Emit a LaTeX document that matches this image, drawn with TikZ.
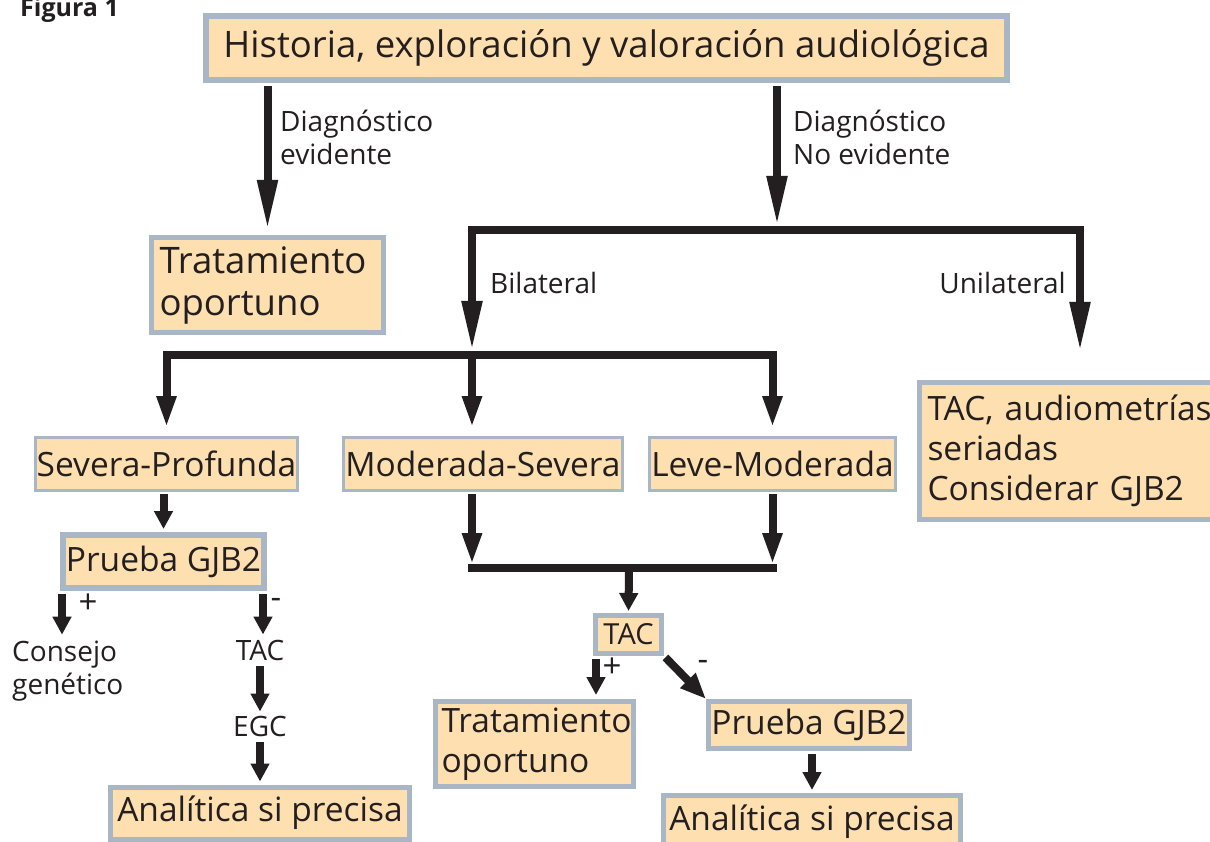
\documentclass[tikz,border=0pt]{standalone}
\usepackage{fontspec}
\setmainfont{Open Sans}
\usetikzlibrary{arrows.meta,positioning}

\definecolor{boxfill}{HTML}{FEDFB0}
\definecolor{boxline}{HTML}{A9B6C6}
\definecolor{ink}{HTML}{231F20}

\newcommand\toptxt{\fontsize{36.5}{42}\selectfont}
\newcommand\bigtxt{\fontsize{33.5}{40}\selectfont}
\newcommand\labtxt{\fontsize{28}{33}\selectfont}
\newcommand\smtxt{\fontsize{29}{33}\selectfont}

\tikzset{
    box/.style={draw=boxline, fill=boxfill, line width=5pt, inner sep=0pt, text=ink, font=\bigtxt},
    thinbox/.style={box, line width=3pt},
    multibox/.style={box, inner xsep=8pt, align=left},
    lbl/.style={inner sep=0pt, text=ink, font=\labtxt, align=left},
    sign/.style={inner sep=0pt, text=ink, font=\fontsize{33}{36}\selectfont},
    link/.style={draw=ink, line width=8pt},
    arrlong/.style={link, -{Triangle[length=50pt,width=19pt]}},
    arrmid/.style={link, -{Triangle[length=32pt,width=18pt]}},
    arrshort/.style={link, -{Triangle[length=18pt,width=18pt]}},
    arrdiag/.style={link, -{Triangle[length=26pt,width=20pt]}}
}

\begin{document}
\begin{tikzpicture}[x=1pt,y=-1pt]
    \useasboundingbox (0,0) rectangle (1210,842);
    \clip (0,0) rectangle (1210,842);

    \node[anchor=base west, inner sep=0pt, text=ink, font=\fontsize{25}{28}\selectfont\bfseries] (fig) at (20,17) {Figura 1};

    % boxes
    \node[box, font=\toptxt, line width=6pt, minimum width=801pt, minimum height=64pt] (top) at (606.5,48) {Historia, exploración y valoración audiológica};
    \node[multibox, font=\toptxt, text width=216pt, minimum height=95pt] (trat1) at (267.5,285) {Tratamiento\\oportuno};
    \node[multibox, text width=289pt, minimum height=137pt] (unitac) at (1072,451) {TAC, audiometrías\\seriadas\\Considerar GJB2};
    \node[thinbox, minimum width=262pt, minimum height=53pt] (sev) at (166.5,464) {Severa-Profunda};
    \node[thinbox, minimum width=279pt, minimum height=53pt] (mod) at (483,464) {Moderada-Severa};
    \node[thinbox, minimum width=246pt, minimum height=53pt] (lev) at (772.5,464) {Leve-Moderada};
    \node[box, line width=6pt, minimum width=201pt, minimum height=53pt] (prueba1) at (163.5,561.5) {Prueba GJB2};
    \node[box, minimum width=299pt, minimum height=52pt] (anal1) at (260,813) {Analítica si precisa};
    \node[box, font=\smtxt, minimum width=66pt, minimum height=38pt] (tac2) at (628.5,634.5) {TAC};
    \node[multibox, inner xsep=6pt, text width=186pt, minimum height=85pt] (trat2) at (534.5,744) {Tratamiento\\oportuno};
    \node[box, minimum width=201pt, minimum height=47pt] (prueba2) at (809,725) {Prueba GJB2};
    \node[box, minimum width=297pt, minimum height=53pt] (anal2) at (812,822) {Analítica si precisa};

    % labels
    \node[lbl, anchor=west] (diag1) at (280,137) {Diagnóstico\\evidente};
    \node[lbl, anchor=west] (diag2) at (793,137) {Diagnóstico\\No evidente};
    \node[lbl, anchor=west] (bil) at (490,283) {Bilateral};
    \node[lbl, anchor=east] (uni) at (1066,283) {Unilateral};
    \node[lbl, anchor=west] (cons) at (12,671) {Consejo\\genético};
    \node[lbl] (tac1) at (260,650) {TAC};
    \node[lbl] (egc) at (260,726) {EGC};
    \node[sign] (plus1) at (88,604) {+};
    \node[sign] (minus1) at (276,603) {-};
    \node[sign] (plus2) at (612,668) {+};
    \node[sign] (minus2) at (703,665) {-};

    \coordinate (split1) at (777,230);
    \coordinate (split2) at (472,355);
    \coordinate (join) at (629,568);
    \coordinate (unitip) at (1080,352);

    % first level
    \draw[arrlong, shorten <=3pt, shorten >=5pt] (top.south -| trat1.north) -- (trat1.north);
    \draw[arrlong, shorten <=3pt, shorten >=4pt] (top.south -| split1) -- (split1);
    \draw[arrlong, shorten >=4pt] (split1) -| (split2);
    \draw[arrlong] (split1) -| (unitip);

    % second level
    \draw[arrmid, shorten >=8pt] (split2) -| (sev.north);
    \draw[arrmid, shorten >=8pt] (split2) -- (split2 |- mod.north);
    \draw[arrmid, shorten >=8pt] (split2) -| (lev.north);

    % moderate branches
    \draw[arrmid, shorten <=2pt, shorten >=3pt] (split2 |- mod.south) -- (split2 |- join);
    \draw[arrmid, shorten <=2pt, shorten >=3pt] (lev.south) -- (lev.south |- join);
    \draw[link, line cap=rect] (split2 |- join) -- (lev.south |- join);
    \draw[arrshort, shorten >=2pt] (join) -- (tac2.north);
    \draw[arrshort, shorten <=3pt, shorten >=4pt] ([xshift=3pt]tac2.south west) -- ([xshift=3pt]tac2.south west |- trat2.north);
    \draw[arrdiag, shorten <=2pt] (tac2.south east) -- (prueba2.north west);
    \draw[arrshort, shorten <=3pt, shorten >=3pt] (anal2.north |- prueba2.south) -- (anal2.north);

    % severe branch
    \draw[arrshort, shorten <=2pt, shorten >=3pt] (sev.south -| prueba1.north) -- (prueba1.north);
    \draw[arrshort, shorten <=3pt, shorten >=6pt] ([xshift=2pt]prueba1.south west) -- ([xshift=2pt]prueba1.south west |- cons.north);
    \draw[arrshort, shorten <=3pt, shorten >=5pt] ([xshift=-4pt]prueba1.south east) -- ([xshift=-4pt]prueba1.south east |- tac1.north);
    \draw[arrshort, shorten <=6pt, shorten >=4pt] (tac1.south) -- (egc.north);
    \draw[arrshort, shorten <=6pt, shorten >=3pt] (egc.south) -- (anal1.north);
\end{tikzpicture}
\end{document}
